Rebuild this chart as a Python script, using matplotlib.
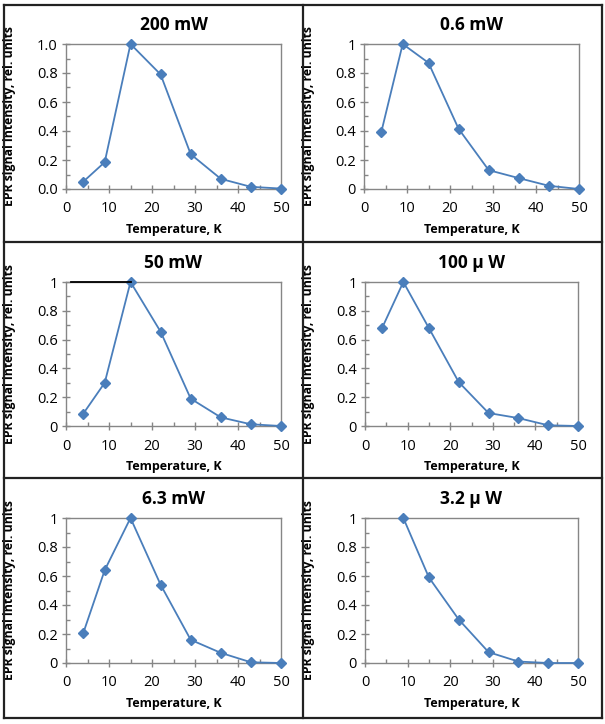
"""EPR signal intensity vs temperature at six microwave powers."""

import matplotlib.pyplot as plt
from matplotlib.lines import Line2D
from matplotlib.ticker import MultipleLocator, FormatStrFormatter

plt.rcParams["font.family"] = ["Open Sans", "DejaVu Sans"]

# ==================== data ====================
temperature = [4, 9, 15, 22, 29, 36, 43, 50]
temperature_32uw = [9, 15, 22, 29, 36, 43, 50]

p_200mw = [0.05, 0.185, 1.0, 0.79, 0.24, 0.07, 0.015, 0.003]
p_06mw = [0.39, 1.0, 0.87, 0.415, 0.13, 0.075, 0.022, 0.0]
p_50mw = [0.085, 0.30, 1.0, 0.655, 0.19, 0.06, 0.012, 0.0]
p_100uw = [0.68, 1.0, 0.68, 0.305, 0.09, 0.055, 0.005, 0.0]
p_63mw = [0.205, 0.64, 1.0, 0.54, 0.16, 0.07, 0.005, 0.0]
p_32uw = [1.0, 0.59, 0.30, 0.075, 0.01, 0.0, 0.0]

titles = ["200 mW", "0.6 mW", "50 mW", "100 \u03bc W", "6.3 mW", "3.2 \u03bc W"]
xs = [temperature, temperature, temperature, temperature, temperature, temperature_32uw]
ys = [p_200mw, p_06mw, p_50mw, p_100uw, p_63mw, p_32uw]
tick_fmt = ["%.1f", "%g", "%g", "%g", "%g", "%g"]

# stray black line on top of the 50 mW panel
stray_x = [1.2, 15]
stray_y = [1.0, 1.0]
# ==============================================

W, H = 605, 724
fig = plt.figure(figsize=(W / 100, H / 100), dpi=100)

# axes boxes in pixels: left, right, top, bottom
boxes = [
    (66, 281, 44, 189),
    (364, 579, 44, 189),
    (66, 281, 282, 426),
    (365, 578, 282, 426),
    (66, 281, 518, 663),
    (365, 578, 518, 663),
]
cell_left = [4, 303]

LINE = "#4A7EBB"
SPINE = "#868686"

for i, (l, r, t, b) in enumerate(boxes):
    ax = fig.add_axes([l / W, 1 - b / H, (r - l) / W, (b - t) / H])
    ax.plot(xs[i], ys[i], color=LINE, lw=1.3, marker="D", ms=5.5,
            mec=LINE, mfc=LINE, clip_on=False, zorder=3)
    if i == 2:
        ax.plot(stray_x, stray_y, color="black", lw=1.3, zorder=4, clip_on=False)
    ax.set_xlim(0, 50)
    ax.set_ylim(0, 1)
    ax.xaxis.set_major_locator(MultipleLocator(10))
    ax.xaxis.set_minor_locator(MultipleLocator(5))
    ax.yaxis.set_major_locator(MultipleLocator(0.2))
    ax.yaxis.set_minor_locator(MultipleLocator(0.1))
    ax.yaxis.set_major_formatter(FormatStrFormatter(tick_fmt[i]))
    for s in ax.spines.values():
        s.set_color(SPINE)
        s.set_linewidth(1.0)
    ax.tick_params(which="major", direction="inout", length=6, width=1,
                   color=SPINE, labelsize=10.5, labelcolor="black")
    ax.tick_params(axis="x", which="major", pad=6)
    ax.tick_params(axis="y", which="major", pad=3)
    ax.tick_params(which="minor", direction="in", length=3, width=1, color=SPINE)

    ax.set_title(titles[i], fontsize=12.5, fontweight="bold", pad=10)
    ax.set_xlabel("Temperature, K", fontsize=9, fontweight="bold")
    ax.set_ylabel("EPR signal intensity, rel. units", fontsize=8.8, fontweight="bold")
    cx = cell_left[i % 2]
    ax.yaxis.set_label_coords((cx + 12 - l) / (r - l), 0.5)
    ax.xaxis.set_label_coords(0.5, -34 / (b - t))

# table borders
border = dict(color="#222222", lw=1.6, transform=fig.transFigure)
for x in (4, 303, 602):
    fig.add_artist(Line2D([x / W, x / W], [1 - 5 / H, 1 - 718 / H], **border))
for y in (5, 242, 478, 718):
    fig.add_artist(Line2D([4 / W, 602 / W], [1 - y / H, 1 - y / H], **border))

fig.savefig("out.png", dpi=100)
